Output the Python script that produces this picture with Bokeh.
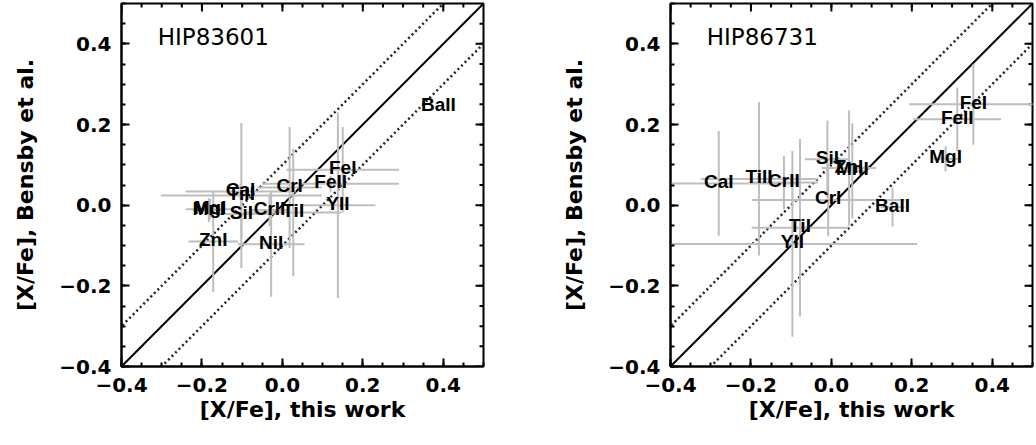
from bokeh.plotting import figure
from bokeh.layouts import row
from bokeh.models import Range1d, FixedTicker, ColumnDataSource
from bokeh.core.properties import value
from bokeh.embed import file_html
from bokeh.resources import INLINE

# ---------------- data ----------------
left_name = "HIP83601"
left_labels = ["BaII", "FeI", "FeII", "YII", "CrI", "CrII", "TiI", "NiI", "ZnI", "MgI", "MnI", "SiI", "CaI", "TiII"]
left_x = [0.388, 0.150, 0.120, 0.138, 0.018, -0.032, 0.027, -0.028, -0.172, -0.180, -0.183, -0.102, -0.104, -0.102]
left_y = [0.245, 0.088, 0.053, 0.000, 0.044, -0.012, -0.018, -0.097, -0.090, -0.010, -0.012, -0.022, 0.034, 0.024]
left_xerr = [0.0, 0.140, 0.170, 0.093, 0.080, 0.050, 0.120, 0.083, 0.062, 0.060, 0.040, 0.080, 0.137, 0.200]
left_yerr = [0.0, 0.106, 0.020, 0.230, 0.150, 0.040, 0.158, 0.130, 0.125, 0.025, 0.030, 0.060, 0.020, 0.180]

right_name = "HIP86731"
right_labels = ["CaI", "TiII", "CrII", "SiI", "ZnI", "MnI", "CrI", "TiI", "YII", "BaII", "MgI", "FeI", "FeII"]
right_x = [-0.280, -0.180, -0.118, -0.010, 0.044, 0.052, -0.008, -0.078, -0.097, 0.152, 0.284, 0.353, 0.313]
right_y = [0.054, 0.065, 0.056, 0.114, 0.092, 0.085, 0.013, -0.056, -0.096, -0.005, 0.115, 0.250, 0.213]
right_xerr = [0.200, 0.145, 0.085, 0.056, 0.068, 0.030, 0.190, 0.120, 0.310, 0.030, 0.030, 0.160, 0.109]
right_yerr = [0.130, 0.190, 0.066, 0.095, 0.143, 0.118, 0.090, 0.220, 0.230, 0.048, 0.031, 0.100, 0.079]

major_ticks = [-0.4, -0.2, 0.0, 0.2, 0.4]
tick_text = ["\u22120.4", "\u22120.2", "0.0", "0.2", "0.4"]
minor_ticks = [-0.4, -0.35, -0.3, -0.25, -0.2, -0.15, -0.1, -0.05, 0.0, 0.05, 0.1, 0.15, 0.2, 0.25, 0.3, 0.35, 0.4, 0.45, 0.5]
diag = [-0.6, 0.7]
offset = 0.1

LO, HI = -0.4, 0.5
FRAME_W, FRAME_H = 362, 363
AX_FONT = "DejaVu Sans"
LBL_FONT = "Liberation Sans"


def style_axis(ax):
    ax.ticker = FixedTicker(ticks=major_ticks, minor_ticks=minor_ticks)
    ax.major_tick_in = 8
    ax.major_tick_out = 0
    ax.minor_tick_in = 4
    ax.minor_tick_out = 0
    ax.major_tick_line_width = 2
    ax.minor_tick_line_width = 2
    ax.axis_line_width = 2
    ax.axis_line_color = "black"
    ax.major_tick_line_color = "black"
    ax.minor_tick_line_color = "black"
    ax.major_label_overrides = {t: s for t, s in zip(major_ticks, tick_text)}
    ax.major_label_text_font = AX_FONT
    ax.major_label_text_font_style = "bold"
    ax.major_label_text_font_size = "20px"
    ax.major_label_text_color = "black"
    ax.axis_label_text_font = AX_FONT
    ax.axis_label_text_font_style = "bold"
    ax.axis_label_text_font_size = "22px"
    ax.axis_label_text_color = "black"


def make_panel(name, labels, xs, ys, xerr, yerr, bl, br):
    p = figure(frame_width=FRAME_W, frame_height=FRAME_H,
               x_range=Range1d(LO, HI), y_range=Range1d(LO, HI),
               output_backend="svg", toolbar_location=None,
               min_border_left=bl, min_border_right=br,
               min_border_top=3, min_border_bottom=79,
               background_fill_color="white", border_fill_color="white")
    p.grid.visible = False
    p.outline_line_color = "black"
    p.outline_line_width = 2

    style_axis(p.xaxis[0])
    style_axis(p.yaxis[0])
    p.xaxis[0].axis_label = "[X/Fe], this work"
    p.yaxis[0].axis_label = "[X/Fe], Bensby et al."
    p.xaxis[0].major_label_standoff = 11
    p.yaxis[0].major_label_standoff = 10
    p.xaxis[0].axis_label_standoff = 2
    p.yaxis[0].axis_label_standoff = 18

    # inward ticks on the top and right frame edges (lengths in pixels converted to data units)
    span = HI - LO
    mx, my = 8 * span / FRAME_W, 8 * span / FRAME_H
    nx, ny = 4 * span / FRAME_W, 4 * span / FRAME_H
    inner = [t for t in minor_ticks if LO < t < HI]
    tk = dict(line_color="black", line_width=2)
    p.segment(x0=major_ticks, y0=[HI] * len(major_ticks), x1=major_ticks, y1=[HI - my] * len(major_ticks), **tk)
    p.segment(x0=inner, y0=[HI] * len(inner), x1=inner, y1=[HI - ny] * len(inner), **tk)
    p.segment(x0=[HI] * len(major_ticks), y0=major_ticks, x1=[HI - mx] * len(major_ticks), y1=major_ticks, **tk)
    p.segment(x0=[HI] * len(inner), y0=inner, x1=[HI - nx] * len(inner), y1=inner, **tk)

    # reference lines
    p.line(diag, diag, line_color="black", line_width=2)
    p.line(diag, [d + offset for d in diag], line_color="#222222", line_width=2.5, line_dash="2 3")
    p.line(diag, [d - offset for d in diag], line_color="#222222", line_width=2.5, line_dash="2 3")

    src = ColumnDataSource(dict(
        x=xs, y=ys, label=labels,
        x0=[x - e for x, e in zip(xs, xerr)], x1=[x + e for x, e in zip(xs, xerr)],
        y0=[y - e for y, e in zip(ys, yerr)], y1=[y + e for y, e in zip(ys, yerr)],
    ))
    p.segment(x0="x0", y0="y", x1="x1", y1="y", source=src, line_color="#bebebe", line_width=2)
    p.segment(x0="x", y0="y0", x1="x", y1="y1", source=src, line_color="#bebebe", line_width=2)
    p.text(x="x", y="y", text="label", source=src, text_align="center", text_baseline="middle",
           y_offset=-2, text_font=value(LBL_FONT), text_font_style="bold",
           text_font_size="19px", text_color="black")

    p.text(x=[-0.31], y=[0.418], text=[name], text_align="left", text_baseline="middle",
           text_font=value(AX_FONT), text_font_size="23px", text_color="black")
    return p


p1 = make_panel(left_name, left_labels, left_x, left_y, left_xerr, left_yerr, 121, 30)
p2 = make_panel(right_name, right_labels, right_x, right_y, right_xerr, right_yerr, 157, 4)

layout = row(p1, p2)
open("out.html", "w").write(file_html(layout, INLINE))
